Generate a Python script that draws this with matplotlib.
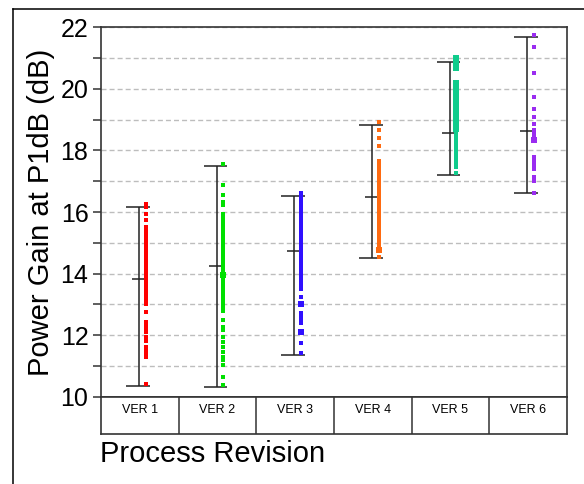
import matplotlib.pyplot as plt
from matplotlib.lines import Line2D

plt.rcParams['font.family'] = ['Liberation Sans', 'DejaVu Sans']
plt.rcParams['lines.scale_dashes'] = False

versions = ["VER 1", "VER 2", "VER 3", "VER 4", "VER 5", "VER 6"]
colors = ["#ff0000", "#00e000", "#3010ff", "#ff6a10", "#10cc8c", "#9a2cf0"]

# range bars (min / max) and mean ticks per revision
range_lo = [10.35, 10.32, 11.35, 14.51, 17.20, 16.60]
range_hi = [16.17, 17.49, 16.51, 18.82, 20.85, 21.66]
means = [13.84, 14.25, 14.73, 16.49, 18.57, 18.64]

ver1 = [16.25, 16.15, 15.95, 15.75,
        15.5, 15.4, 15.3, 15.2, 15.1, 15.0, 14.9, 14.8, 14.7, 14.6, 14.5,
        14.4, 14.3, 14.2, 14.1, 14.0, 13.9, 13.8, 13.7, 13.6, 13.5, 13.4,
        13.3, 13.2, 13.1, 13.0,
        12.76, 12.43, 12.32, 12.21, 12.1, 11.94, 11.83, 11.62, 11.51, 11.41,
        11.3, 10.42]
ver2 = [17.57, 16.87, 16.55, 16.33, 16.22, 15.95, 15.84,
        15.75, 15.65, 15.55, 15.45, 15.35, 15.25, 15.15, 15.05, 14.95, 14.85,
        14.75, 14.65, 14.55, 14.45, 14.35, 14.25, 14.15, 14.05,
        13.88, 13.78, 13.68, 13.58, 13.48, 13.38, 13.28, 13.18, 13.08, 12.98,
        12.88, 12.78,
        12.49, 12.27, 12.16, 11.95, 11.78, 11.62, 11.46, 11.3, 11.2, 11.03,
        10.65, 10.38]
ver3 = [16.6, 16.5, 16.4, 16.3, 16.2, 16.1, 16.0, 15.9, 15.8, 15.7, 15.6,
        15.5, 15.4, 15.3, 15.2, 15.1, 15.0, 14.9, 14.8, 14.7, 14.6, 14.5,
        14.4, 14.3, 14.2, 14.1, 14.0, 13.9, 13.8, 13.7, 13.6, 13.5,
        13.25, 12.71, 12.6, 12.49, 12.39, 11.75, 11.42]
ver4 = [18.93, 18.66, 18.39, 18.14,
        17.65, 17.55, 17.45, 17.35, 17.25, 17.15, 17.05, 16.95, 16.85, 16.75,
        16.65, 16.55, 16.45, 16.35, 16.25, 16.15, 16.05, 15.95, 15.85, 15.75,
        15.62, 15.5, 15.4, 15.3, 15.2, 15.1, 15.0, 14.9, 14.82, 14.54]
ver5 = [18.55, 18.45, 18.35, 18.25, 18.15, 18.05, 17.95, 17.85, 17.75,
        17.65, 17.58, 17.46, 17.26]
ver6 = [21.74, 21.34, 20.52, 19.74, 19.34, 19.09, 18.85, 18.66, 18.56,
        18.46, 17.79, 17.69, 17.59, 17.5, 17.41, 17.14, 17.01, 16.63]

# dense clusters drawn with bigger markers
ver1_big = []
ver2_big = [13.95]
ver3_big = [13.03, 12.1]
ver4_big = [14.76]
ver5_big = [21.0, 20.9, 20.8, 20.68, 20.2, 20.08, 19.95, 19.85, 19.75,
            19.65, 19.55, 19.45, 19.35, 19.25, 19.15, 19.05, 18.95, 18.8,
            18.68]
ver6_big = [18.35]

points = [ver1, ver2, ver3, ver4, ver5, ver6]
clusters = [ver1_big, ver2_big, ver3_big, ver4_big, ver5_big, ver6_big]

W, H = 584, 484
fig = plt.figure(figsize=(W / 100, H / 100), dpi=100)
ax = fig.add_axes([101 / W, 1 - 397 / H, 466 / W, 370 / H])
box = fig.add_axes([101 / W, 1 - 434 / H, 466 / W, 37 / H])

bar_col = "#222222"
for i, c in enumerate(colors):
    x = i + 1
    ax.vlines(x - 0.01, range_lo[i], range_hi[i], color=bar_col, lw=1.1, zorder=3)
    ax.hlines([range_lo[i], range_hi[i]], x - 0.18, x + 0.125, color=bar_col, lw=1.1, zorder=3)
    ax.hlines(means[i], x - 0.105, x + 0.05, color=bar_col, lw=1.1, zorder=3)
    pts = points[i]
    ax.plot([x + 0.075] * len(pts), pts, 's', ms=2.3, mew=0, color=c, zorder=4)
    big = clusters[i]
    if big:
        ax.plot([x + 0.075] * len(big), big, 's', ms=4, mew=0, color=c, zorder=4)

ax.set_xlim(0.5, 6.5)
ax.set_ylim(10, 22)
ax.set_xticks([])
ax.set_yticks(range(10, 23, 2))
ax.set_yticks(range(11, 22, 2), minor=True)
ax.tick_params(axis='y', which='both', direction='out', length=6, width=1.1,
               color='#333333', labelsize=18, pad=3)
ax.grid(which='both', axis='y', color='#bdbdbd', linestyle=(0, (3.6, 2.2)), lw=1.0)
ax.set_axisbelow(True)
for s in ax.spines.values():
    s.set_color('#333333')
    s.set_linewidth(1.2)

box.set_xlim(0.5, 6.5)
box.set_ylim(0, 1)
box.set_xticks([])
box.set_yticks([])
box.vlines([1.5, 2.5, 3.5, 4.5, 5.5], 0, 1, color='#333333', lw=1.1)
for i, name in enumerate(versions):
    box.text(i + 1, 0.65, name, ha='center', va='center', fontsize=9)
for s in box.spines.values():
    s.set_color('#333333')
    s.set_linewidth(1.2)

fig.text(41 / W, 1 - 212 / H, "Power Gain at P1dB (dB)", rotation=90,
         ha='center', va='center', fontsize=21)
fig.text(100 / W, 1 - 440 / H, "Process Revision", ha='left', va='top', fontsize=21)

# outer frame (left and top edges only)
fig.add_artist(Line2D([13 / W, 13 / W], [0, 1 - 9 / H], color='black', lw=1.1))
fig.add_artist(Line2D([13 / W, 1], [1 - 9 / H, 1 - 9 / H], color='black', lw=1.1))

fig.savefig("out.png", dpi=100)
